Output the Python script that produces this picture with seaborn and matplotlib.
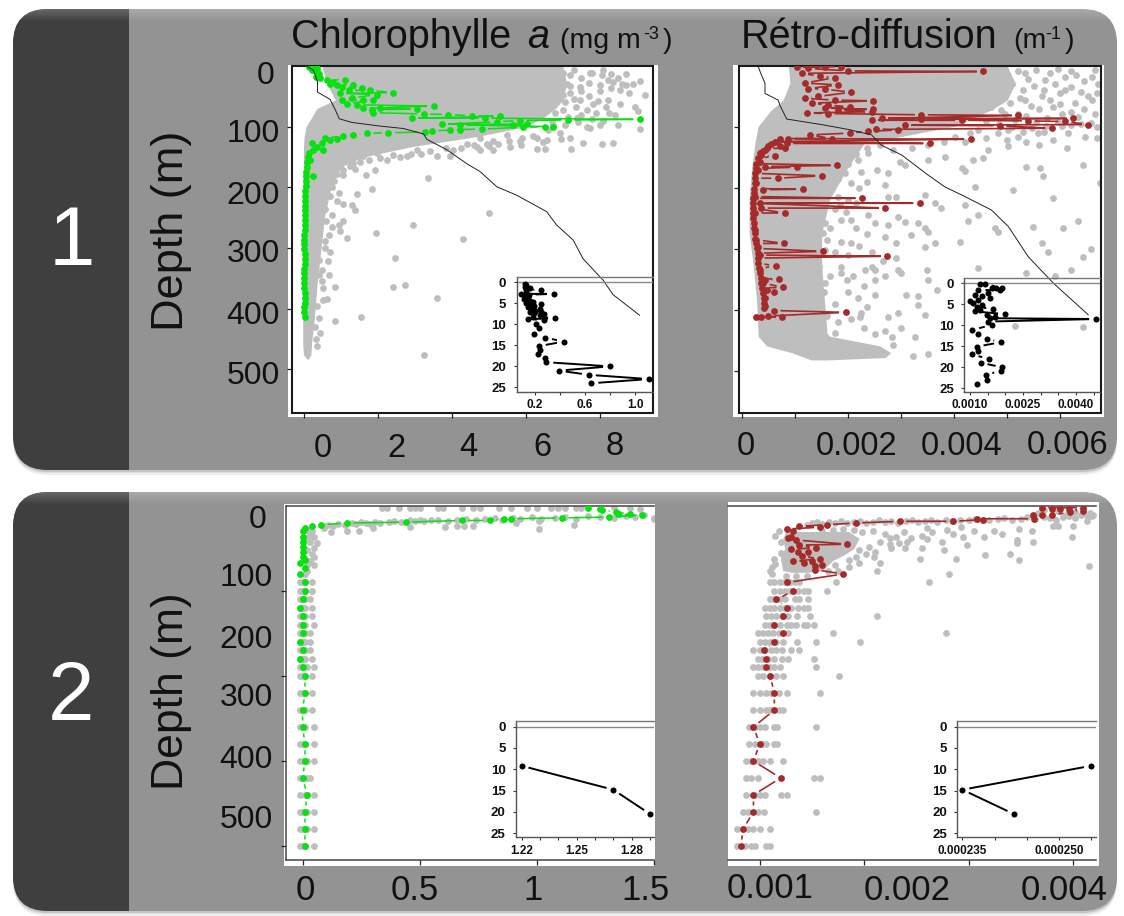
import numpy as np
import matplotlib
matplotlib.use("Agg")
import matplotlib.pyplot as plt
from matplotlib.patches import FancyBboxPatch, Rectangle
import seaborn as sns

# panel 1, chlorophyll (mg m-3) against depth (m)
chl1_cloud_depth = [0, 29, 56, 70, 84, 100, 116, 133, 150, 166, 193, 248, 303, 358, 413, 457, 476, 483]
chl1_cloud_left = [0.48, 0.61, 0.84, 0.34, 0.21, 0.05, 0, -0.02, -0.02, -0.02, -0.04, -0.04, -0.04, -0.04, -0.04, -0.04, -0.02, 0.07]
chl1_cloud_right = [7.0, 7.1, 7.0, 6.8, 6.5, 6.0, 4.7, 2.9, 1.6, 1.0, 0.75, 0.55, 0.45, 0.35, 0.28, 0.2, 0.18, 0.12]
chl1_grey_x = [7.73, 8.05, 9.08, 9.22, 8.95, 9.04, 9.08, 8.36, 8.23, 8.0, 8.72, 7.46, 7.19, 8.54, 8.23, 7.82, 8.18, 8.41, 7.91, 7.46,
               7.19, 7.01, 7.37, 7.1, 6.74, 6.83, 8.0, 8.5, 7.73, 8.36, 8.05, 7.55, 7.23, 6.51, 6.29, 5.88, 5.57, 5.12, 4.76, 4.67,
               4.04, 3.95, 3.59, 2.77, 3.05, 2.23, 1.96, 1.6, 1.33, 0.97, 0.79, 1.06, 0.61, 1.38, 1.92, 1.68, 3.34, 0.75, 1.83, 1.44,
               0.88, 1.06, 1.29, 1.38, 0.75, 0.52, 5.01, 2.94, 1.94, 1.06, 0.95, 0.97, 1.15, 0.66, 0.57, 0.7, 4.29, 2.46, 0.39, 0.48,
               0.66, 0.48, 0.52, 0.84, 0.63, 2.4, 2.73, 3.6, 1.53, 0.84, 0.41, 0.43, 0.36, 3.23, 4.76, 5.12, 5.48, 5.84, 4.94, 4.4,
               6.2, 6.56, 6.92, 7.19, 6.74]
chl1_grey_depth = [11, 15, 24, 48, 67, 75, 104, 26, 23, 31, 31, 34, 15, 40, 56, 62, 67, 81, 78, 56,
                   45, 72, 86, 29, 62, 40, 97, 97, 103, 127, 128, 127, 136, 137, 137, 130, 133, 138, 138, 133,
                   138, 149, 148, 149, 138, 155, 144, 149, 160, 163, 171, 180, 182, 170, 171, 180, 185, 200, 202, 211,
                   223, 227, 229, 237, 245, 232, 243, 262, 275, 255, 262, 272, 284, 278, 289, 306, 285, 316, 320, 336,
                   344, 355, 366, 365, 384, 365, 361, 383, 414, 421, 416, 440, 461, 477, 118, 123, 114, 123, 128, 128,
                   116, 122, 111, 119, 97]
chl1_grey_more = [(6.8, 5), (7.0, 12), (7.3, 6), (7.5, 20), (7.7, 28), (6.9, 22), (7.2, 33), (7.5, 42), (7.8, 12), (8.1, 6),
                  (8.3, 14), (8.5, 20), (8.7, 13), (8.9, 30), (6.7, 35), (7.0, 47), (7.3, 55), (7.7, 50), (8.0, 42), (8.3, 37),
                  (8.6, 30), (8.8, 45), (6.75, 52), (7.05, 60), (7.35, 68), (7.65, 72), (7.95, 58), (8.25, 78), (8.55, 62), (6.8, 78),
                  (7.15, 84), (7.5, 80), (7.8, 88), (8.1, 90), (6.7, 90), (7.05, 97), (7.4, 93), (7.65, 100), (6.6, 106), (6.95, 120),
                  (6.3, 118), (6.45, 126), (5.9, 118), (5.55, 124), (5.25, 128), (5.0, 132), (4.6, 130), (4.25, 135), (3.85, 135), (3.4, 140),
                  (3.15, 145), (2.9, 145), (2.6, 150), (2.4, 147), (2.05, 152), (1.75, 155), (1.5, 158), (1.25, 165), (1.05, 172), (0.9, 178),
                  (0.8, 190), (0.65, 195), (0.95, 210), (0.7, 215), (0.55, 235), (0.6, 255), (0.75, 265), (0.55, 300), (0.65, 322), (0.4, 345),
                  (0.5, 385), (0.35, 395), (0.3, 430), (0.32, 450)]
chl1_x = [0.12, 0.25, 0.34, 0.21, 0.34, 0.39, 0.32, 0.43, 0.61, 0.79, 1.11, 0.7, 0.88, 1.33, 1.02, 1.2, 1.56, 1.78, 0.97, 2.41,
          1.96, 1.02, 1.29, 1.6, 1.87, 1.15, 1.42, 1.6, 3.5, 1.83, 3.05, 2.05, 1.87, 3.23, 3.9, 4.53, 2.91, 5.3, 4.89, 7.14,
          9.08, 5.21, 5.84, 3.72, 6.02, 5.66, 6.74, 4.22, 5.93, 6.51, 3.95, 4.8, 3.45, 3.27, 4.22, 2.28, 1.69, 1.33, 1.06, 0.88,
          0.57, 0.7, 0.48, 0.21, 0.52, 0.34, 0.25, 0.12, 0.16, 0.25,
          0.1, 0.08, 0.07, 0.06, 0.05, 0.05, 0.04, 0.03, 0.03, 0.02, 0.02, 0.02, 0.01, 0.01, 0.01, 0.01, 0.0, 0.0, 0.0, 0.0,
          0.01, 0.01, 0.01, 0.0, 0.0, 0.0, 0.0, 0.0, 0.01, 0.01, 0.01, 0.0, 0.0, 0.01]
chl1_depth = [1, 2, 4, 7, 9, 13, 18, 20, 23, 26, 23, 29, 31, 31, 35, 40, 37, 40, 45, 44,
              47, 56, 53, 56, 56, 62, 64, 70, 66, 72, 71, 70, 77, 79, 80, 82, 86, 83, 86, 89,
              88, 92, 90, 96, 96, 97, 100, 97, 101, 100, 105, 104, 107, 109, 105, 110, 111, 114, 115, 121,
              119, 122, 127, 127, 138, 133, 138, 144, 155, 181,
              150, 158, 166, 174, 182, 190, 198, 206, 214, 222, 230, 238, 246, 254, 262, 270, 278, 286, 294, 302,
              310, 318, 326, 334, 342, 350, 358, 366, 374, 382, 390, 398, 406, 414]
chl1_curve_x = [0.07, 0.25, 0.36, 0.36, 0.7, 0.84, 0.95, 1.29, 2.05, 2.68, 3.23, 3.32, 3.86, 4.4, 4.76, 5.21, 5.75, 6.56, 6.83, 7.28, 7.55, 8.09, 8.36, 9.08]
chl1_curve_depth = [0, 7, 26, 43, 55, 72, 87, 93, 99, 103, 112, 121, 138, 161, 174, 199, 213, 240, 262, 287, 318, 353, 377, 411]
chl1_zoom_x = [0.12, 0.13, 0.12, 0.16, 0.25, 0.13, 0.13, 0.09, 0.35, 0.15, 0.12, 0.14, 0.11, 0.14, 0.16, 0.18, 0.13, 0.25, 0.16, 0.19,
               0.14, 0.17, 0.24, 0.2, 0.25, 0.16, 0.19, 0.27, 0.24, 0.18, 0.36, 0.14, 0.27, 0.21, 0.23, 0.19, 0.28, 0.43, 0.23, 0.24,
               0.22, 0.28, 0.29, 0.8, 0.39, 0.63, 1.11, 0.65]
chl1_zoom_depth = [0.4, 0.8, 1.2, 1.5, 1.8, 1.9, 2.6, 2.8, 2.8, 3.0, 3.2, 3.6, 4, 4.3, 4.6, 4.8, 4.9, 5.3, 5.4, 5.6,
                   5.8, 6.2, 6.4, 6.8, 7, 7.2, 7.4, 7.6, 7.8, 8.2, 8.6, 8.8, 9, 10, 10.8, 12.4, 13.2, 14.1, 15.2, 16,
                   17, 18, 19, 20, 21, 22, 23, 24]

# panel 1, backscatter (10^-3 m-1) against depth (m)
bb1_cloud_depth = [0, 28, 56, 72, 99, 127, 165, 219, 274, 328, 383, 438, 443, 459, 470, 478, 482]
bb1_cloud_left = [0.87, 0.9, 0.77, 0.55, 0.3, 0.24, 0.18, 0.13, 0.13, 0.21, 0.27, 0.3, 0.3, 0.46, 0.93, 1.18, 1.3]
bb1_cloud_right = [5.0, 5.15, 5.0, 4.7, 4.0, 2.3, 2.0, 1.65, 1.5, 1.5, 1.55, 1.6, 1.65, 2.6, 2.8, 2.7, 1.6]
bb1_grey_x = [4.58, 4.89, 5.33, 5.71, 6.09, 6.21, 6.53, 6.65, 6.69, 6.28, 5.87, 6.03, 5.65, 5.21, 4.89, 5.33, 6.34, 6.59, 6.03, 5.74,
              5.46, 5.02, 6.47, 5.87, 5.58, 5.21, 4.83, 4.45, 4.01, 6.43, 6.12, 6.75, 5.62, 5.36, 5.68, 5.02, 4.64, 4.36, 4.55, 4.14,
              4.2, 3.82, 3.51, 3.07, 2.97, 2.75, 2.38, 2.19, 1.94, 2.25, 2.06, 1.69, 1.56, 2.0, 1.84, 2.75, 3.45, 3.64, 3.76, 4.39,
              5.11, 5.87, 4.2, 4.45, 4.26, 5.49, 6.34, 6.06, 4.77, 4.83, 2.94, 3.07, 2.75, 2.38, 3.45, 3.51, 3.32, 3.64, 4.11, 3.19,
              3.45, 5.65, 5.77, 6.59, 6.43, 6.21, 4.45, 5.36, 5.9, 3.48, 2.94, 3.0, 2.31, 2.44, 1.87, 1.87, 1.97, 2.5, 2.69, 3.51,
              3.67, 3.1, 3.32, 2.19, 2.5, 2.25, 2.22, 2.75, 2.94, 3.32, 3.45, 5.14, 6.43, 3.26, 2.82, 2.85, 2.06, 1.75, 1.5, 3.23,
              3.51, 1.56, 1.43, 1.56, 1.87, 2.06, 1.53, 1.56, 1.87, 2.06, 1.5, 1.81]
bb1_grey_depth = [34, 28, 12, 23, 39, 9, 50, 7, 45, 61, 67, 78, 50, 78, 72, 56, 83, 94, 99, 99,
                  102, 105, 116, 121, 110, 116, 110, 105, 116, 162, 135, 192, 168, 166, 180, 132, 138, 154, 151, 168,
                  172, 149, 154, 162, 157, 176, 143, 154, 176, 173, 192, 198, 214, 220, 228, 214, 211, 225, 233, 199,
                  204, 217, 228, 244, 254, 264, 254, 266, 265, 272, 247, 255, 261, 244, 266, 272, 258, 291, 288, 277,
                  296, 290, 305, 300, 313, 334, 332, 340, 345, 334, 334, 340, 334, 329, 329, 340, 351, 351, 345, 351,
                  367, 375, 377, 381, 375, 405, 411, 411, 405, 392, 408, 426, 428, 445, 444, 457, 457, 438, 444, 476,
                  472, 356, 378, 302, 288, 291, 274, 258, 252, 252, 241, 214]
bb1_grey_more = [(4.8, 5), (5.0, 15), (5.2, 8), (5.4, 22), (5.55, 6), (5.8, 12), (5.95, 5), (6.1, 18), (6.3, 14), (6.45, 25),
                 (6.6, 18), (6.72, 30), (4.75, 18), (4.95, 40), (5.1, 30), (5.3, 40), (5.5, 33), (5.7, 40), (5.9, 30), (6.0, 45),
                 (6.2, 35), (6.4, 42), (6.6, 55), (4.8, 50), (5.05, 60), (5.25, 52), (5.45, 65), (5.6, 70), (5.8, 55), (6.0, 62),
                 (6.2, 75), (6.45, 70), (6.65, 78), (4.7, 68), (4.95, 78), (5.15, 88), (5.35, 82), (5.55, 92), (5.75, 85), (5.95, 92),
                 (6.2, 97), (6.4, 95), (6.7, 100), (4.6, 90), (4.85, 95), (5.1, 100), (5.3, 108), (5.7, 108), (6.15, 110), (6.7, 118),
                 (4.3, 110), (4.6, 118), (5.0, 122), (5.35, 125), (5.6, 130), (3.8, 125), (4.2, 125), (3.5, 130), (3.2, 135), (2.85, 138),
                 (2.6, 130), (2.35, 135),
                 (1.35, 150), (1.5, 160), (1.65, 170), (1.8, 150), (2.0, 160), (2.15, 145), (1.4, 180), (1.6, 190), (1.8, 185), (2.2, 200),
                 (1.4, 200), (1.55, 225), (1.75, 235), (1.95, 240), (2.15, 225), (2.35, 190), (2.55, 170), (2.7, 195), (2.9, 215), (1.35, 235),
                 (1.45, 255), (1.65, 265), (2.15, 265), (2.35, 275), (2.5, 258), (2.7, 280), (2.9, 290), (1.4, 275), (1.6, 285), (1.75, 305),
                 (2.0, 310), (2.2, 295), (2.45, 305), (2.65, 320), (2.9, 315), (1.35, 315), (1.45, 330), (1.65, 345), (2.1, 345), (2.3, 360),
                 (2.5, 335), (1.35, 355), (1.55, 370), (1.75, 390), (2.0, 370), (2.35, 395), (1.4, 385), (1.6, 410), (1.8, 420), (2.05, 415),
                 (1.45, 425), (1.3, 435), (2.3, 430), (2.5, 440), (2.7, 435), (3.0, 430)]
bb1_x = [1.03, 1.25, 1.56, 1.87, 2.0, 4.55, 1.12, 1.47, 1.75, 1.18, 1.81, 1.25, 1.56, 2.06, 1.18, 1.43, 1.75, 2.47, 1.31, 1.62,
         2.03, 1.56, 2.47, 1.81, 1.23, 1.62, 2.44, 3.38, 5.21, 2.63, 6.25, 3.38, 2.44, 4.14, 6.09, 5.4, 6.53, 3.07, 4.86, 5.84,
         2.94, 2.53, 2.38, 2.03, 1.28, 1.69, 0.87, 4.31, 0.71, 0.62, 3.54, 0.84, 0.49, 0.81, 0.43, 0.36, 0.62, 0.33, 1.79, 0.43,
         0.3, 1.03, 1.5, 0.67, 0.27, 1.14, 0.4, 0.24, 2.26, 0.33, 3.35, 0.36, 2.7, 0.8, 0.24, 0.24, 0.27, 0.79, 0.3, 1.52,
         0.33, 2.74, 0.63, 0.33, 0.43, 0.69, 0.4, 0.77, 0.46, 0.6, 0.43, 0.43, 0.6, 1.95, 0.27, 0.36, 0.49, 0.76,
         0.33, 0.3, 0.27, 0.27, 0.25, 0.24, 0.24, 0.23, 0.23, 0.21, 0.21, 0.21, 0.21, 0.21, 0.22, 0.22, 0.24, 0.25, 0.27, 0.28,
         0.29, 0.3, 0.3, 0.32, 0.33, 0.35, 0.36, 0.38, 0.4, 0.42, 0.42, 0.42, 0.55, 0.46, 0.4, 0.71]
bb1_depth = [2, 4, 2, 1, 8, 9, 12, 17, 19, 28, 31, 37, 38, 43, 53, 50, 56, 57, 61, 64,
             67, 69, 71, 72, 77, 78, 75, 80, 81, 86, 86, 87, 89, 89, 91, 90, 96, 97, 98, 102,
             105, 104, 107, 110, 113, 119, 119, 120, 119, 124, 127, 127, 132, 135, 138, 146, 148, 157, 163, 165,
             170, 166, 180, 184, 192, 202, 203, 214, 217, 225, 225, 233, 233, 241, 241, 269, 285, 291, 296, 304,
             310, 312, 328, 334, 351, 350, 356, 363, 367, 370, 381, 394, 401, 404, 411, 411, 410, 411,
             143, 151, 160, 168, 176, 184, 192, 201, 209, 217, 225, 233, 241, 250, 258, 266, 274, 283, 291, 299,
             307, 315, 323, 332, 340, 348, 356, 364, 373, 381, 389, 397, 128, 135, 140, 132]
bb1_curve_x = [0.3, 0.35, 0.43, 0.43, 0.68, 0.71, 0.84, 1.06, 1.56, 2.0, 2.44, 2.63, 3.01, 3.51, 3.82, 4.2, 4.7, 5.02, 5.21, 5.4, 5.87, 6.53]
bb1_curve_depth = [0, 12, 28, 45, 56, 64, 87, 90, 97, 104, 113, 130, 146, 179, 198, 214, 236, 263, 288, 313, 356, 408]
bb1_zoom_x = [1.28, 1.42, 1.9, 1.75, 1.85, 1.61, 1.24, 1.52, 1.14, 1.33, 1.57, 1.0, 1.24, 1.09, 1.33, 1.19, 1.14, 1.28, 1.66, 1.47,
              1.99, 1.57, 1.71, 4.57, 1.52, 1.61, 1.07, 1.24, 1.47, 1.88, 1.19, 1.24, 1.05, 1.54, 1.3, 1.92, 1.88, 1.44, 1.49, 1.21]
bb1_zoom_depth = [0.2, 0.2, 1, 1, 1.6, 1.2, 1.6, 2.4, 2.8, 3, 3.6, 4.1, 4, 4.8, 5.2, 5.7, 6.7, 6.3, 6, 7.5,
                  7.3, 8.3, 7.9, 8.5, 9.1, 9.9, 11.1, 12.1, 13.2, 14, 15.1, 16.1, 16.9, 18, 18.9, 20, 20.8, 21.8, 22.9, 24]

# panel 2, chlorophyll
chl2_x = [1.22, 1.27, 1.28, 1.34, 1.35, 1.4, 1.45, 1.31, 1.11, 0.89, 0.86, 0.8, 0.68, 0.44, 0.19, 0.08, 0.04, 0.01, 0, 0, 0, 0, 0, 0, 0.01, -0.01, 0.01, -0.01,
          0.01, 0.01, 0, -0.01, 0, 0, 0, -0.01, 0, -0.01, 0, 0.01, 0.01, 0, 0, 0.01, 0.01, 0, 0.02, 0.01, 0.01, 0.01]
chl2_depth = [2, 4, 5, 7, 10, 9, 11, 13, 14, 15, 15, 17, 17, 19, 20, 22, 24, 26, 30, 36, 42, 48, 54, 60, 64, 67, 73, 80,
              90, 100, 110, 120, 130, 140, 150, 160, 170, 180, 190, 200, 220, 240, 260, 280, 300, 320, 340, 360, 380, 400]
chl2_row_depth = [90, 100, 110, 120, 130, 140, 150, 160, 170, 180, 190, 200, 220, 240, 260, 280, 300, 320, 340, 360, 380, 400]
chl2_row_x = [[-0.01, 0, 0.01, 0.04], [-0.01, 0, 0.01, 0.04], [-0.01, 0, 0.01, 0.03], [-0.01, 0, 0.01, 0.04], [-0.01, 0, 0.01, 0.04],
              [-0.01, 0, 0.01, 0.05], [-0.01, 0, 0.01, 0.03], [-0.01, 0, 0.01, 0.03], [-0.01, 0, 0.01, 0.03], [-0.01, 0, 0.01, 0.04],
              [-0.01, 0, 0.02, 0.05], [-0.01, 0, 0.01, 0.04], [-0.01, 0, 0.01, 0.04], [-0.01, 0, 0.01, 0.04], [-0.01, 0, 0.01, 0.05],
              [-0.01, 0, 0.01, 0.05], [-0.01, 0, 0.02, 0.05], [-0.01, 0, 0.02, 0.03], [-0.01, 0.01, 0.02, 0.05], [-0.01, 0, 0.02, 0.05],
              [-0.01, 0, 0.02, 0.05], [-0.01, 0, 0.01, 0.05]]
chl2_grey_x = [0.34, 0.36, 0.41, 0.46, 0.48, 0.5, 0.58, 0.6, 0.68, 0.73, 0.76, 0.84, 0.89, 0.96, 1.0, 1.06, 1.09, 1.12, 1.17, 1.19,
               0.09, 0.11, 0.13, 0.15, 0.18, 0.21, 0.23, 0.25, 0.27, 0.29, 0.31, 0.33, 0.37, 0.39, 0.42, 0.46, 0.48, 0.5, 0.52, 0.55,
               0.58, 0.62, 0.66, 0.7, 0.74, 0.78, 0.82, 0.85, 0.9, 0.93, 0.98, 1.02, 1.08, 1.12, 1.17, 1.22, 1.27, 1.33, 1.38, 1.42,
               1.46, 1.5, 0.09, 0.12, 0.19, 0.24, 0.3, 0.46, 0.61, 0.66, 0.69, 0.73, 0.91, 1.01, 1.01, 1.16, 1.5, 1.33, 1.4, 1.44,
               0.02, 0.04, 0.06, 0.05, 0.04, 0.05, 0.03, 0.05, 0.02, 0.01, 0.02, 0.03, 0.05, 0.02, 0.03, 0.01, 0.02]
chl2_grey_depth = [2, 2, 2, 2, 2, 2, 2, 2, 2, 2, 2, 2, 2, 2, 2, 2, 2, 2, 2, 2,
                   23, 22, 23, 21, 22, 20, 21, 19, 20, 21, 19, 20, 19, 18, 19, 17, 18, 16, 18, 17,
                   16, 18, 16, 15, 17, 15, 14, 16, 14, 15, 13, 15, 14, 13, 15, 12, 13, 14, 12, 13,
                   11, 14, 26, 31, 29, 29, 26, 25, 25, 24, 24, 23, 20, 27, 18, 22, 15, 1, 2, 3,
                   28, 30, 44, 50, 56, 60, 65, 70, 77, 80, 38, 42, 36, 52, 34, 62, 69]
chl2_zoom_x = [1.22, 1.27, 1.29]
chl2_zoom_depth = [9.2, 14.8, 20.5]

# panel 2, backscatter
bb2_x = [4.1, 4.1, 3.97, 3.88, 3.7, 3.8, 3.96, 3.8, 3.7, 3.62, 3.63, 3.14, 3.08, 2.85, 2.34, 1.92, 1.64, 1.58, 1.38, 1.26, 1.32, 1.27, 1.3, 1.35, 1.38, 1.84,
         1.54, 1.3, 1.37, 1.46, 1.4, 1.58, 1.32, 1.42, 1.5, 1.53, 1.6, 1.53, 1.8,
         1.26, 1.32, 1.16, 1.26, 1.22, 1.14, 1.22, 1.14, 1.04, 1.06, 1.06, 1.1, 1.14, 1.14, 0.94, 1.0, 0.94, 1.2, 0.94, 0.94, 0.84, 0.82]
bb2_depth = [2, 6, 7, 3, 2, 3, 3, 11, 11, 11, 15, 16, 15, 18, 18, 20, 22, 25, 24, 27, 30, 38, 36, 40, 46, 45,
             49, 51, 54, 54, 59, 62, 65, 67, 65, 71, 69, 75, 80,
             90, 100, 110, 120, 130, 140, 150, 160, 170, 180, 190, 200, 220, 240, 260, 280, 300, 320, 340, 360, 380, 400]
bb2_row_depth = [90, 100, 110, 120, 130, 140, 150, 160, 170, 180, 190, 200, 220, 240, 260, 280, 300, 320, 340, 360, 380, 400]
bb2_row_x = [[1.1, 1.14, 1.19, 1.24, 1.29, 1.34, 1.38, 1.73], [1.14, 1.19, 1.24, 1.29, 1.37, 1.42, 1.46, 1.64],
             [1.1, 1.14, 1.19, 1.24, 1.34, 1.38, 1.46], [1.05, 1.1, 1.14, 1.19, 1.24, 1.3, 1.37, 1.42, 1.46],
             [1.06, 1.11, 1.16, 1.21, 1.27, 1.36, 1.48, 2.12], [1.05, 1.1, 1.14, 1.19, 1.26, 1.3, 1.35, 1.42, 1.45, 1.52],
             [0.98, 1.03, 1.08, 1.13, 1.18, 1.27, 1.7, 2.78], [1.0, 1.05, 1.1, 1.16, 1.22, 1.36, 1.54, 1.96],
             [0.94, 1.0, 1.05, 1.11, 1.16, 1.21, 1.3, 1.38], [0.98, 1.02, 1.08, 1.14, 1.21, 1.27, 1.52],
             [0.94, 0.98, 1.03, 1.1, 1.14, 1.19, 1.54], [0.98, 1.03, 1.1, 1.16, 1.22, 1.76],
             [0.94, 1.0, 1.06, 1.11, 1.18, 1.26, 1.58], [0.94, 1.0, 1.06, 1.1, 1.18, 1.22],
             [0.9, 0.95, 1.0, 1.05, 1.14, 1.17, 1.54], [0.9, 0.95, 1.02, 1.06, 1.14, 1.17],
             [0.87, 0.92, 0.98, 1.03, 1.1, 1.22], [0.87, 0.92, 0.98, 1.52, 1.58],
             [0.87, 0.95, 1.0, 1.05, 1.2, 1.26], [0.84, 0.89, 0.98, 1.04, 1.54],
             [0.78, 0.84, 0.89, 0.94, 1.0, 1.1], [0.78, 0.86, 0.92, 0.95, 1.06, 1.1]]
bb2_cloud_depth = [30, 38, 50, 58, 64, 76, 78]
bb2_cloud_left = [1.25, 1.22, 1.24, 1.2, 1.2, 1.22, 1.3]
bb2_cloud_right = [1.85, 1.95, 1.9, 1.8, 1.7, 1.6, 1.45]
bb2_grey_x = [1.45, 1.5, 1.55, 1.6, 1.66, 1.72, 1.78, 1.84, 1.9, 1.96, 2.02, 2.08, 2.14, 2.2, 2.26, 2.32, 2.4, 2.46, 2.52, 2.58,
              2.64, 2.7, 2.78, 2.84, 2.92, 3.0, 3.06, 3.14, 3.2, 3.28, 3.34, 3.42, 3.5, 3.56, 3.64, 3.72, 3.78, 3.84, 3.9, 3.96,
              4.02, 4.08, 4.14, 4.18, 3.66, 3.72, 3.86, 3.94, 4.02, 4.1, 4.16,
              2.6, 2.79, 2.6, 2.98, 2.39, 2.55, 2.76, 2.53, 2.88, 3.16, 3.4, 3.48, 3.46, 3.46, 3.62, 3.32, 3.99, 4.15, 2.81, 2.62,
              2.12, 2.15, 2.09, 3.48, 3.24, 3.61, 2.93, 3.81, 3.86, 4.0, 4.13, 4.19, 2.26, 2.41, 2.25]
bb2_grey_depth = [22, 20, 19, 21, 19, 20, 18, 20, 19, 18, 20, 19, 17, 19, 18, 20, 18, 17, 19, 18,
                  17, 19, 16, 18, 16, 17, 15, 16, 17, 15, 14, 16, 15, 13, 15, 13, 14, 16, 13, 12,
                  14, 11, 13, 12, 8, 5, 6, 9, 7, 10, 8,
                  26, 28, 39, 46, 50, 50, 52, 62, 62, 58, 56, 63, 40, 44, 42, 33, 37, 71, 80, 90,
                  76, 67, 60, 27, 30, 29, 25, 24, 24, 24, 18, 11, 50, 42, 38]
bb2_grey_more = [(1.9, 28), (1.98, 31), (2.08, 30), (2.2, 33), (2.3, 36), (2.38, 31), (2.45, 38), (2.33, 44), (2.25, 45), (2.15, 42),
                 (2.05, 48), (1.95, 52), (2.02, 57), (2.1, 54), (1.92, 60), (1.85, 64), (1.95, 67), (1.85, 72), (1.75, 76), (1.72, 69),
                 (1.65, 77), (1.2, 55), (1.15, 68), (1.12, 72), (1.1, 77), (1.12, 80), (1.14, 62), (1.25, 82), (1.35, 82), (1.45, 82),
                 (1.18, 30), (1.15, 35), (1.2, 42), (2.65, 31), (2.55, 35), (2.75, 42), (2.85, 33), (2.95, 36), (3.05, 30), (3.15, 36),
                 (1.6, 30), (1.7, 28), (1.8, 27)]
bb2_zoom_x = [0.000255, 0.000235, 0.000243]
bb2_zoom_depth = [9.2, 14.8, 20.5]

GREY = "#bebebe"
GREEN = "#06e210"
RED = "#a52a2a"
PANEL = "#939393"
DARK = "#3f3f3f"
FONT = "Liberation Sans"
W, H = 1124, 916

sns.set_theme(style="white")
plt.rcParams["font.family"] = FONT

fig = plt.figure(figsize=(W / 100, H / 100), dpi=100, facecolor="white")
bg = fig.add_axes([0, 0, 1, 1])
bg.set_xlim(0, W)
bg.set_ylim(H, 0)
bg.axis("off")


def make_axes(left, top, right, bottom):
    return fig.add_axes([left / W, 1 - bottom / H, (right - left) / W, (bottom - top) / H])


def panel(top, bottom):
    for off, shade in [(5, "#eeeeee"), (3, "#dddddd"), (2, "#c4c4c4")]:
        bg.add_patch(FancyBboxPatch((13, top + off), 1104, bottom - top, boxstyle="round,pad=0,rounding_size=35", fc=shade, ec="none"))
    body = FancyBboxPatch((13, top), 1104, bottom - top, boxstyle="round,pad=0,rounding_size=35", fc=PANEL, ec="none")
    bg.add_patch(body)
    dark = Rectangle((13, top), 116, bottom - top, fc=DARK, ec="none")
    bg.add_patch(dark)
    dark.set_clip_path(body)
    # light fading strip along the top edge of the slide box
    for i in range(12):
        strip = Rectangle((13, top + i), 1104, 1, fc="white", ec="none", alpha=0.2 * (1 - i / 12))
        bg.add_patch(strip)
        strip.set_clip_path(body)


def gapped_line(ax, x, y, color, lw, gap=6.5):
    # same look as R's type="b": the segments stop short of the points
    order = np.argsort(y)
    pts = ax.transData.transform(np.column_stack([np.array(x)[order], np.array(y)[order]]))
    xs, ys = [], []
    for a, b in zip(pts[:-1], pts[1:]):
        d = np.hypot(*(b - a))
        if d <= 2 * gap:
            continue
        u = (b - a) / d
        xs += [a[0] + u[0] * gap, b[0] - u[0] * gap, np.nan]
        ys += [a[1] + u[1] * gap, b[1] - u[1] * gap, np.nan]
    back = ax.transData.inverted().transform(np.column_stack([xs, ys]))
    ax.plot(back[:, 0], back[:, 1], color=color, lw=lw, solid_capstyle="butt", zorder=3)


def dots(ax, x, y, color, size=24, zorder=2):
    sns.scatterplot(x=x, y=y, color=color, s=size, linewidth=0, ax=ax, zorder=zorder, legend=False)


def main_axes(box, white, xlim, ylim, xticks, yticks, spines, edge="#1a1a1a", width=1.5):
    bg.add_patch(Rectangle((white[0], white[1]), white[2] - white[0], white[3] - white[1], fc="white", ec="none"))
    ax = make_axes(*box)
    ax.patch.set_alpha(0)
    ax.set_xlim(*xlim)
    ax.set_ylim(*ylim)
    ax.set_xticks(xticks)
    ax.set_yticks(yticks)
    ax.tick_params(length=3.5, width=0.9, color="#222222", labelbottom=False, labelleft=False, bottom=True, left=True)
    for name, sp in ax.spines.items():
        sp.set_visible(name in spines)
        sp.set_color(edge)
        sp.set_linewidth(width)
    return ax


def inset(box, xlim, ylim, xmajor, xlabels, xminor, x, y):
    ax = make_axes(*box)
    ax.patch.set_alpha(0)
    ax.set_xlim(*xlim)
    ax.set_ylim(*ylim)
    ax.set_xticks(xmajor)
    ax.set_xticklabels(xlabels)
    ax.set_xticks(xminor, minor=True)
    ax.set_yticks([0, 5, 10, 15, 20, 25])
    ax.tick_params(which="both", length=2.5, width=0.8, color="#333333", bottom=True, left=True)
    ax.tick_params(axis="y", pad=5)
    ax.tick_params(axis="x", pad=3)
    for lab in ax.get_xticklabels():
        lab.set_fontsize(8.5)
        lab.set_fontweight("bold")
        lab.set_color("#111111")
    for lab in ax.get_yticklabels():
        lab.set_fontsize(9.5)
        lab.set_fontweight("bold")
        lab.set_color("#111111")
    ax.spines["right"].set_visible(False)
    ax.spines["top"].set_color("#777777")
    ax.spines["left"].set_color("#555555")
    ax.spines["bottom"].set_color("#555555")
    for sp in ax.spines.values():
        sp.set_linewidth(1)
    ax.axhline(0, color="#888888", lw=1)
    gapped_line(ax, x, y, "black", 1.4, gap=7)
    dots(ax, x, y, "black", size=19, zorder=4)
    return ax


panel(9, 470)
panel(492, 911)

# top panels
ax1 = main_axes((292, 66, 653, 413), (288, 65, 658, 417), (-0.33, 9.44), (572, 0), [0, 2, 4, 6, 8], [100, 200, 300, 400, 500], ["left", "right", "top", "bottom"])
ax1.fill_betweenx(chl1_cloud_depth, chl1_cloud_left, chl1_cloud_right, color=GREY, lw=0)
more_x, more_d = zip(*chl1_grey_more)
dots(ax1, chl1_grey_x + list(more_x), chl1_grey_depth + list(more_d), GREY)
gapped_line(ax1, chl1_x, chl1_depth, GREEN, 1.1)
dots(ax1, chl1_x, chl1_depth, GREEN, zorder=4)
sns.lineplot(x=chl1_curve_x, y=chl1_curve_depth, sort=False, estimator=None, color="#222222", lw=0.7, ax=ax1, zorder=5)

ax2 = main_axes((739, 66, 1101, 413), (733, 65, 1104, 417), (-0.06, 6.77), (569, 0), [0, 1, 2, 3, 4, 5, 6], [100, 200, 300, 400, 500], ["left", "right", "top", "bottom"])
ax2.fill_betweenx(bb1_cloud_depth, bb1_cloud_left, bb1_cloud_right, color=GREY, lw=0)
more_x, more_d = zip(*bb1_grey_more)
dots(ax2, bb1_grey_x + list(more_x), bb1_grey_depth + list(more_d), GREY)
gapped_line(ax2, bb1_x, bb1_depth, RED, 1.2)
dots(ax2, bb1_x, bb1_depth, RED, zorder=4)
sns.lineplot(x=bb1_curve_x, y=bb1_curve_depth, sort=False, estimator=None, color="#222222", lw=0.7, ax=ax2, zorder=5)

# bottom panels
ax3 = main_axes((286, 506, 654, 860), (284, 504, 655, 866), (-0.071, 1.5014), (416.5, 0), [0, 0.5, 1, 1.5], [100, 200, 300, 400], ["left", "top", "bottom"], edge="#444444", width=1.1)
row_x = [v for row in chl2_row_x for v in row]
row_d = [d for d, row in zip(chl2_row_depth, chl2_row_x) for v in row]
dots(ax3, chl2_grey_x + row_x, chl2_grey_depth + row_d, GREY)
gapped_line(ax3, chl2_x, chl2_depth, GREEN, 1.1)
dots(ax3, chl2_x, chl2_depth, GREEN, zorder=4)

ax4 = main_axes((728, 506, 1096, 860), (728, 502, 1099, 866), (0.696, 4.22), (416.5, 0), [1, 2, 3, 4], [], ["top", "bottom"], edge="#444444", width=1.1)
ax4.fill_betweenx(bb2_cloud_depth, bb2_cloud_left, bb2_cloud_right, color=GREY, lw=0)
row_x = [v for row in bb2_row_x for v in row]
row_d = [d for d, row in zip(bb2_row_depth, bb2_row_x) for v in row]
more_x, more_d = zip(*bb2_grey_more)
dots(ax4, bb2_grey_x + row_x + list(more_x), bb2_grey_depth + row_d + list(more_d), GREY)
gapped_line(ax4, bb2_x, bb2_depth, RED, 1.2)
dots(ax4, bb2_x, bb2_depth, RED, zorder=4)

inset((516.7, 277, 652.7, 391.7), (0.053, 1.141), (26, -1.2), [0.2, 0.6, 1.0], ["0.2", "0.6", "1.0"], [0.4, 0.8], chl1_zoom_x, chl1_zoom_depth)
inset((964.3, 278, 1100, 391.7), (0.84, 4.68), (25.8, -1.27), [1.0, 2.5, 4.0], ["0.0010", "0.0025", "0.0040"], [1.5, 2.0, 3.0, 3.5, 4.5], bb1_zoom_x, bb1_zoom_depth)
inset((516, 721, 654, 837), (1.2169, 1.2922), (25.9, -1.33), [1.22, 1.25, 1.28], ["1.22", "1.25", "1.28"], [1.23, 1.24, 1.26, 1.27, 1.29], chl2_zoom_x, chl2_zoom_depth)
inset((957.3, 721, 1096, 837), (0.0002342, 0.0002558), (25.9, -1.33), [0.000235, 0.00025], ["0.000235", "0.000250"], [0.00024, 0.000245, 0.000255], bb2_zoom_x, bb2_zoom_depth)

# the slide's hand placed labels sit off the tick marks
label_top = fig.add_axes([0, 0, 1, 1], zorder=10)
label_top.set_xlim(0, W)
label_top.set_ylim(H, 0)
label_top.axis("off")


def num(x, y, s, size, ha="center", color="#111111"):
    # y is the middle of the digits
    label_top.text(x, y + size / 2, s, fontsize=size, ha=ha, va="baseline", color=color)


def word(x, base, s, size, **kw):
    label_top.text(x, base, s, fontsize=size, ha="left", va="baseline", color="#111111", **kw)


num(72, 235, "1", 60, color="white")
num(71, 690, "2", 60, color="white")
label_top.text(172, 231, "Depth (m)", fontsize=32.5, rotation=90, ha="center", va="center", color="#111111")
label_top.text(172, 691, "Depth (m)", fontsize=32, rotation=90, ha="center", va="center", color="#111111")

word(291, 48, "Chlorophylle", 28.5)
word(527, 48, "a", 28.5, style="italic")
word(560, 48, "(mg m", 20.5)
word(643, 39, "-3", 13)
word(663, 48, ")", 20.5)
word(741, 48, "Rétro-diffusion", 28.5)
word(1013, 48, "(m", 20.5)
word(1045, 39, "-1", 13)
word(1065, 48, ")", 20.5)

for y, s in zip([73, 131, 193, 250, 313, 372], ["0", "100", "200", "300", "400", "500"]):
    num(280 if s != "0" else 275, y, s, 23, ha="right")
for y, s in zip([517, 575, 637, 694, 757, 816], ["0", "100", "200", "300", "400", "500"]):
    num(273 if s != "0" else 267, y, s, 23, ha="right")
for x, y, s in zip([323, 396, 468, 542, 615], [445, 445, 444, 444, 443], ["0", "2", "4", "6", "8"]):
    num(x, y, s, 23.5)
for x, y, s in zip([746, 857, 962, 1068], [443, 443, 443, 442], ["0", "0.002", "0.004", "0.006"]):
    num(x, y, s, 23.5)
for x, y, s in zip([305, 415, 533, 645], [888, 888, 887, 888], ["0", "0.5", "1", "1.5"]):
    num(x, y, s, 25)
for x, y, s in zip([770, 907, 1064], [885, 888, 888], ["0.001", "0.002", "0.004"]):
    num(x, y, s, 25)

fig.savefig("out.png", dpi=100, facecolor="white")
